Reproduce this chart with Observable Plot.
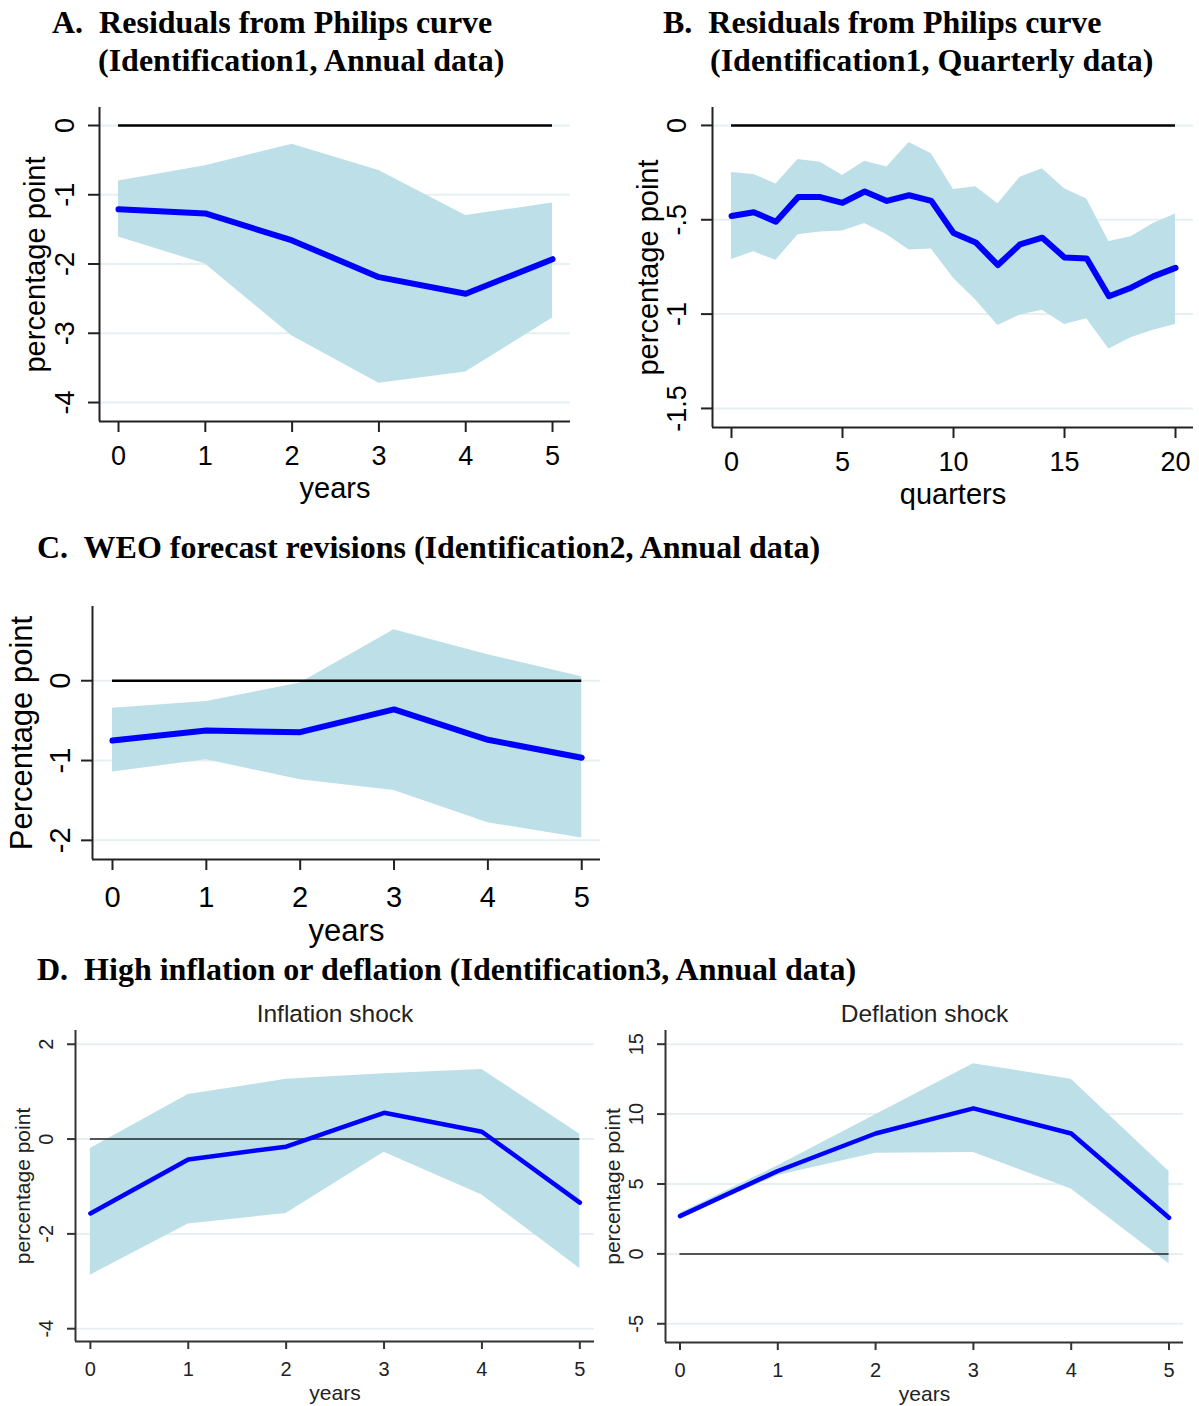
<!DOCTYPE html>
<html><head><meta charset="utf-8">
<script src="https://cdn.jsdelivr.net/npm/d3@7"></script>
<script src="https://cdn.jsdelivr.net/npm/@observablehq/plot@0.6"></script>
<style>
body{margin:0;background:#fff;}
#root{position:relative;width:1199px;height:1406px;overflow:hidden;font-family:"Liberation Sans",Arial,sans-serif;}
.title{position:absolute;font-family:"Liberation Serif","Times New Roman",serif;font-weight:bold;font-size:32px;white-space:pre;line-height:1;color:#000;}
.panel{position:absolute;}
</style></head><body><div id="root"></div>
<script>
// ---------- Data ----------
const years = [0, 1, 2, 3, 4, 5];
const quarters = [0,1,2,3,4,5,6,7,8,9,10,11,12,13,14,15,16,17,18,19,20];

// A. Residuals from Philips curve (annual)
const estA = [-1.21, -1.27, -1.66, -2.19, -2.43, -1.93];
const loA  = [-1.61, -2.00, -3.04, -3.72, -3.56, -2.78];
const hiA  = [-0.80, -0.58, -0.27, -0.65, -1.30, -1.12];

// B. Residuals from Philips curve (quarterly)
const estB = [-0.48,-0.46,-0.51,-0.38,-0.38,-0.41,-0.35,-0.40,-0.37,-0.40,-0.57,-0.62,-0.74,-0.63,-0.595,-0.70,-0.705,-0.905,-0.86,-0.80,-0.755];
const hiB  = [-0.25,-0.26,-0.31,-0.18,-0.195,-0.265,-0.19,-0.22,-0.09,-0.15,-0.34,-0.325,-0.415,-0.275,-0.23,-0.335,-0.39,-0.615,-0.59,-0.52,-0.47];
const loB  = [-0.71,-0.67,-0.715,-0.58,-0.565,-0.56,-0.52,-0.58,-0.66,-0.655,-0.81,-0.925,-1.06,-1.005,-0.98,-1.055,-1.025,-1.185,-1.125,-1.085,-1.055];

// C. WEO forecast revisions
const estC = [-0.75, -0.625, -0.645, -0.36, -0.74, -0.965];
const hiC  = [-0.345, -0.26, -0.03, 0.64, 0.325, 0.05];
const loC  = [-1.145, -0.99, -1.24, -1.375, -1.78, -1.97];

// D. Inflation shock
const estD1 = [-1.57, -0.43, -0.16, 0.555, 0.155, -1.34];
const hiD1  = [-0.20, 0.94, 1.26, 1.38, 1.47, 0.10];
const loD1  = [-2.87, -1.79, -1.57, -0.28, -1.18, -2.73];

// D. Deflation shock
const estD2 = [2.70, 5.93, 8.61, 10.41, 8.61, 2.58];
const hiD2  = [2.90, 6.30, 9.95, 13.60, 12.50, 5.90];
const loD2  = [2.60, 5.60, 7.20, 7.25, 4.65, -0.70];

// Tick values & labels
const xTicksYears = [0, 1, 2, 3, 4, 5];
const xTicksQuarters = [0, 5, 10, 15, 20];
const yTicksA = [0, -1, -2, -3, -4];
const yLabelsA = ["0", "-1", "-2", "-3", "-4"];
const yTicksB = [0, -0.5, -1, -1.5];
const yLabelsB = ["0", "-.5", "-1", "-1.5"];
const yTicksC = [0, -1, -2];
const yLabelsC = ["0", "-1", "-2"];
const yTicksD1 = [2, 0, -2, -4];
const yLabelsD1 = ["2", "0", "-2", "-4"];
const yTicksD2 = [15, 10, 5, 0, -5];
const yLabelsD2 = ["15", "10", "5", "0", "-5"];

const titles = [
  {text: "A.  Residuals from Philips curve", left: 52, top: 6},
  {text: "(Identification1, Annual data)", left: 98, top: 44},
  {text: "B.  Residuals from Philips curve", left: 663, top: 6},
  {text: "(Identification1, Quarterly data)", left: 710, top: 44},
  {text: "C.  WEO forecast revisions (Identification2, Annual data)", left: 37, top: 531},
  {text: "D.  High inflation or deflation (Identification3, Annual data)", left: 37, top: 953}
];

// ---------- Drawing ----------
const root = document.getElementById("root");
for (const t of titles) {
  const d = document.createElement("div");
  d.className = "title";
  d.textContent = t.text;
  d.style.left = t.left + "px";
  d.style.top = t.top + "px";
  root.appendChild(d);
}

const BAND = "#bddfe8", LINE = "#0000ff", GRID = "#e6f0f3";

function panel(c) {
  const data = c.xs.map((x, i) => ({x, est: c.est[i], lo: c.lo[i], hi: c.hi[i]}));
  const yt = c.yTicks.map((v, i) => ({v, s: c.yLabels[i]}));
  const marks = [
    Plot.gridY(c.yTicks, {stroke: GRID, strokeOpacity: 1, strokeWidth: 2}),
    Plot.areaY(data, {x: "x", y1: "lo", y2: "hi", fill: BAND}),
    Plot.ruleY([0], {x1: c.xs[0], x2: c.xs[c.xs.length - 1], stroke: c.zeroColor, strokeWidth: c.zeroW}),
    Plot.line(data, {x: "x", y: "est", stroke: LINE, strokeWidth: c.lineW, strokeLinejoin: "round", strokeLinecap: "round"}),
    Plot.ruleX([c.xDomain[0]], {stroke: c.axisColor, strokeWidth: 2}),
    Plot.ruleY([c.yDomain[0]], {stroke: c.axisColor, strokeWidth: 2}),
    Plot.axisX({ticks: c.xTicks, tickSize: c.tickSize, fill: "none", stroke: c.axisColor, strokeWidth: 2}),
    Plot.axisY({ticks: c.yTicks, tickSize: c.tickSize, fill: "none", stroke: c.axisColor, strokeWidth: 2}),
    Plot.text(c.xTicks, {x: d => d, frameAnchor: "bottom", dy: c.xTickDy, text: d => String(d), fontSize: c.fs, fill: c.ink, lineAnchor: "middle"}),
    Plot.text(yt, {y: "v", text: "s", frameAnchor: "left", dx: c.yTickDx, rotate: -90, fontSize: c.fs, fill: c.ink, textAnchor: "middle", lineAnchor: "middle"}),
    Plot.text([c.xLabel], {frameAnchor: "bottom", dy: c.xLabDy, text: d => d, fontSize: c.labFs, fill: c.ink, lineAnchor: "middle"}),
    Plot.text([c.yLabel], {frameAnchor: "left", dx: c.yLabDx, rotate: -90, text: d => d, fontSize: c.labFs, fill: c.ink, textAnchor: "middle", lineAnchor: "middle"})
  ];
  if (c.subtitle) marks.push(Plot.text([c.subtitle], {frameAnchor: "top", dy: c.subDy, text: d => d, fontSize: c.subFs, fill: c.ink, lineAnchor: "middle"}));
  const svg = Plot.plot({
    width: c.width, height: c.height,
    marginTop: c.m[0], marginRight: c.m[1], marginBottom: c.m[2], marginLeft: c.m[3],
    x: {domain: c.xDomain},
    y: {domain: c.yDomain},
    style: {fontFamily: '"Liberation Sans", Arial, sans-serif', color: "#000", background: "transparent", overflow: "visible"},
    marks
  });
  const wrap = document.createElement("div");
  wrap.className = "panel";
  wrap.style.left = c.left + "px";
  wrap.style.top = c.top + "px";
  wrap.appendChild(svg);
  root.appendChild(wrap);
}

panel({left: 0, top: 90, width: 600, height: 420, m: [17, 30, 89, 99],
  xDomain: [-0.219, 5.207], yDomain: [-4.274, 0.26],
  xs: years, est: estA, lo: loA, hi: hiA,
  xTicks: xTicksYears, yTicks: yTicksA, yLabels: yLabelsA,
  xLabel: "years", yLabel: "percentage point",
  fs: 27, labFs: 29, xTickDy: 35, xLabDy: 67, yTickDx: -34, yLabDx: -64,
  tickSize: 11, lineW: 6, zeroW: 2.5, zeroColor: "#000", axisColor: "#222", ink: "#000"});

panel({left: 600, top: 90, width: 599, height: 420, m: [17, 6, 83, 112],
  xDomain: [-0.856, 20.81], yDomain: [-1.601, 0.095],
  xs: quarters, est: estB, lo: loB, hi: hiB,
  xTicks: xTicksQuarters, yTicks: yTicksB, yLabels: yLabelsB,
  xLabel: "quarters", yLabel: "percentage point",
  fs: 27, labFs: 29, xTickDy: 35, xLabDy: 67, yTickDx: -35, yLabDx: -64,
  tickSize: 11, lineW: 6, zeroW: 2.5, zeroColor: "#000", axisColor: "#222", ink: "#000"});

panel({left: 0, top: 590, width: 620, height: 360, m: [16, 20, 91, 92],
  xDomain: [-0.213, 5.2], yDomain: [-2.24, 0.93],
  xs: years, est: estC, lo: loC, hi: hiC,
  xTicks: xTicksYears, yTicks: yTicksC, yLabels: yLabelsC,
  xLabel: "years", yLabel: "Percentage point",
  fs: 29, labFs: 31, xTickDy: 38, xLabDy: 72, yTickDx: -32, yLabDx: -70,
  tickSize: 11, lineW: 6, zeroW: 2.5, zeroColor: "#000", axisColor: "#222", ink: "#000"});

panel({left: 0, top: 995, width: 600, height: 411, m: [35, 6, 65, 75],
  xDomain: [-0.152, 5.15], yDomain: [-4.27, 2.29],
  xs: years, est: estD1, lo: loD1, hi: hiD1,
  xTicks: xTicksYears, yTicks: yTicksD1, yLabels: yLabelsD1,
  xLabel: "years", yLabel: "percentage point", subtitle: "Inflation shock", subFs: 24.5, subDy: -16,
  fs: 20, labFs: 21, xTickDy: 28, xLabDy: 52, yTickDx: -29, yLabDx: -52,
  tickSize: 8, lineW: 4.5, zeroW: 1.5, zeroColor: "#222", axisColor: "#333", ink: "#222"});

panel({left: 600, top: 995, width: 599, height: 411, m: [35, 16, 64, 65],
  xDomain: [-0.148, 5.148], yDomain: [-6.34, 15.98],
  xs: years, est: estD2, lo: loD2, hi: hiD2,
  xTicks: xTicksYears, yTicks: yTicksD2, yLabels: yLabelsD2,
  xLabel: "years", yLabel: "percentage point", subtitle: "Deflation shock", subFs: 24.5, subDy: -16,
  fs: 20, labFs: 21, xTickDy: 28, xLabDy: 52, yTickDx: -29, yLabDx: -52,
  tickSize: 8, lineW: 4.5, zeroW: 1.5, zeroColor: "#222", axisColor: "#333", ink: "#222"});
</script></body></html>
